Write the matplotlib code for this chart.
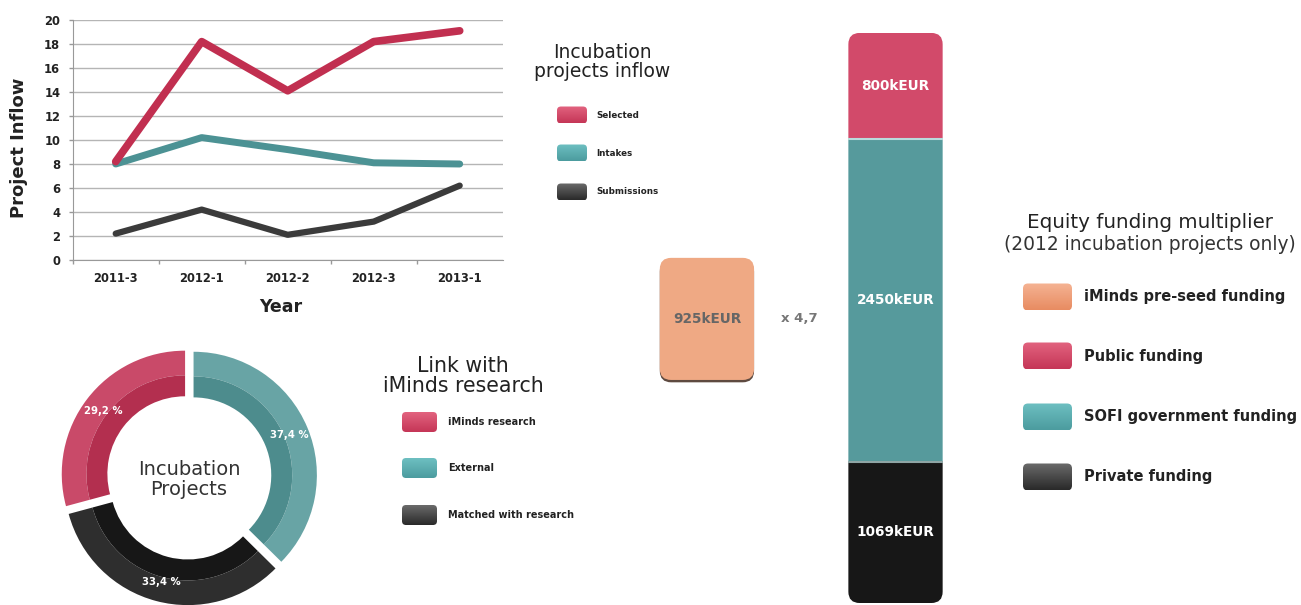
import numpy as np
import matplotlib.pyplot as plt
from matplotlib.patches import FancyBboxPatch
from matplotlib.colors import LinearSegmentedColormap

plt.rcParams['font.family'] = ['DejaVu Sans']

# project inflow per call
periods = ['2011-3', '2012-1', '2012-2', '2012-3', '2013-1']
selected = [8.2, 18.2, 14.1, 18.2, 19.1]
intakes = [8.0, 10.2, 9.2, 8.1, 8.0]
submissions = [2.2, 4.2, 2.1, 3.2, 6.2]
inflow_labels = ['Selected', 'Intakes', 'Submissions']

# link with iMinds research, share of incubation projects (%)
link_labels = ['External', 'Matched with research', 'iMinds research']
link_share = [37.4, 33.4, 29.2]

# 2012 funding (kEUR), stacked bottom to top
preseed = 925
funding_labels = ['Private funding', 'SOFI government funding', 'Public funding']
funding = [1069, 2450, 800]

RED = '#c12f50'
TEAL = '#4c9294'
DARK = '#3b3b3b'

W, H = 1301, 605
fig = plt.figure(figsize=(W / 100, H / 100), dpi=100)


def px_box(left, top, width, height):
    return [left / W, 1 - (top + height) / H, width / W, height / H]


# overlay in pixel units for the titles and legend keys
ov = fig.add_axes([0, 0, 1, 1])
ov.axis('off')


def key(cx, cy, w, h, top, bottom, r=4):
    patch = FancyBboxPatch((cx - w / 2, cy - h / 2), w, h,
                           boxstyle=f'round,pad=0,rounding_size={r}',
                           fc='none', ec='none')
    ov.add_patch(patch)
    cmap = LinearSegmentedColormap.from_list('k', [top, bottom])
    im = ov.imshow(np.linspace(0, 1, 32).reshape(-1, 1), cmap=cmap, aspect='auto',
                   extent=(cx - w / 2, cx + w / 2, cy + h / 2, cy - h / 2),
                   interpolation='bilinear')
    im.set_clip_path(patch)


red_key = ('#e2637f', '#c53657')
teal_key = ('#6dbfc1', '#4c9c9f')
dark_key = ('#6a6a6a', '#2a2a2a')
orange_key = ('#f5b393', '#e88c62')

# legend: project inflow
ov.text(602, 62, 'Incubation\nprojects inflow', ha='center', va='center',
        fontsize=13.5, color='#222', linespacing=1.0)
for lab, cols, y in zip(inflow_labels, [red_key, teal_key, dark_key], [115, 153, 192]):
    key(572, y, 30, 17, *cols)
    ov.text(596, y, lab, va='center', fontsize=6.3, fontweight='bold', color='#222')

# legend: link with research
ov.text(463, 376, 'Link with\niMinds research', ha='center', va='center',
        fontsize=14.8, color='#222', linespacing=1.0)
link_order = [2, 0, 1]
for i, cols, y in zip(link_order, [red_key, teal_key, dark_key], [422, 468, 515]):
    key(419.5, y, 35, 20, *cols)
    ov.text(448, y, link_labels[i], va='center', fontsize=7, fontweight='bold', color='#222')

# legend: funding
ov.text(1150, 223, 'Equity funding multiplier', ha='center', va='center',
        fontsize=14.3, color='#222')
ov.text(1150, 244, '(2012 incubation projects only)', ha='center', va='center',
        fontsize=13.4, color='#333')
fund_legend = ['iMinds pre-seed funding', funding_labels[2], funding_labels[1], funding_labels[0]]
for lab, cols, y in zip(fund_legend, [orange_key, red_key, teal_key, dark_key],
                        [297, 356, 417, 477]):
    key(1047.5, y, 49, 27, *cols, r=5)
    ov.text(1084, y, lab, va='center', fontsize=10.5, fontweight='bold', color='#222')

ov.set_xlim(0, W)
ov.set_ylim(H, 0)

# line chart
ax = fig.add_axes(px_box(72.7, 20, 430, 240))
x = np.arange(len(periods))
kw = dict(solid_capstyle='round', solid_joinstyle='round', zorder=3)
ax.plot(x, submissions, color=DARK, lw=4.5, **kw)
ax.plot(x, intakes, color=TEAL, lw=5, **kw)
ax.plot(x, selected, color=RED, lw=5.5, **kw)
ax.set_xlim(-0.5, len(periods) - 0.5)
ax.set_ylim(0, 20)
ax.set_yticks(np.arange(0, 21, 2))
ax.set_xticks(x, periods)
ax.set_xticks(np.arange(-0.5, len(periods) - 1), minor=True)
ax.tick_params(axis='x', which='major', length=0, pad=9)
ax.tick_params(axis='x', which='minor', length=3, width=1, color='#999')
ax.tick_params(axis='y', length=3, width=1, color='#999', pad=6)
for lab in ax.get_xticklabels() + ax.get_yticklabels():
    lab.set_fontweight('bold')
    lab.set_fontsize(8.3)
    lab.set_color('#222')
ax.grid(axis='y', color='#b5b5b5', lw=1)
ax.set_axisbelow(True)
for s in ('top', 'right'):
    ax.spines[s].set_visible(False)
ax.spines['left'].set_color('#999')
ax.spines['bottom'].set_color('#999')
ax.set_ylabel('Project Inflow', fontsize=13, fontweight='bold', color='#222')
ax.yaxis.set_label_coords(-0.105, 0.467)
ax.set_xlabel('Year', fontsize=12.5, fontweight='bold', color='#222')
ax.xaxis.set_label_coords(0.484, -0.16)

# donut
ax2 = fig.add_axes(px_box(189 - 148, 477 - 148, 296, 296))
outer_cols = ['#68a4a5', '#2e2e2e', '#c94a69']
inner_cols = ['#4d8c8d', '#171717', '#b32f4f']
explode = [0.04] * len(link_share)
ax2.pie(link_share, radius=1, colors=outer_cols, startangle=90, counterclock=False,
        explode=explode, wedgeprops=dict(width=0.2, lw=0),
        autopct=lambda p: f'{p:.1f} %'.replace('.', ','), pctdistance=0.84,
        textprops=dict(color='white', fontsize=7.3, fontweight='bold'))
ax2.pie(link_share, radius=0.8, colors=inner_cols, startangle=90, counterclock=False,
        explode=explode, wedgeprops=dict(width=0.17, lw=0))
for t in ax2.texts:
    t.set_zorder(5)
ax2.text(0, -0.02, 'Incubation\nProjects', ha='center', va='center', fontsize=14,
         color='#333', linespacing=1.1)
ax2.set_xlim(-1.2, 1.2)
ax2.set_ylim(-1.2, 1.2)
ax2.set_aspect('equal')

# funding multiplier
ax3 = fig.add_axes(px_box(640, 20, 320, 585))
ax3.set_xlim(-0.355, 1.342)
ax3.set_ylim(-15, 4417)
ax3.axis('off')
p0, p1 = ax3.transData.transform([(0, 0), (1, 1)])
aspect = (p1[0] - p0[0]) / (p1[1] - p0[1])
rs = 0.06

bottoms = np.concatenate([[0], np.cumsum(funding)[:-1]])
bars = ax3.bar(1, funding, width=0.5, bottom=bottoms, color=['#171717', '#569a9c', '#d24a6a'], lw=0)
clip = FancyBboxPatch((0.75, 0), 0.5, sum(funding), boxstyle=f'round,pad=0,rounding_size={rs}',
                      mutation_aspect=aspect, fc='none', ec='none', transform=ax3.transData)
ax3.add_patch(clip)
for b in bars:
    b.set_clip_path(clip)
ax3.hlines(np.cumsum(funding)[:-1], 0.75, 1.25, colors=['#8fa5a5', '#b8dcdc'], lw=1.5)
for v, b0 in zip(funding, bottoms):
    ax3.text(1, b0 + v / 2, f'{v}kEUR', ha='center', va='center', color='white',
             fontsize=9.8, fontweight='bold')

seed_bottom = 1690
ax3.add_patch(FancyBboxPatch((-0.25, seed_bottom - 18), 0.5, preseed,
                             boxstyle=f'round,pad=0,rounding_size={rs}', mutation_aspect=aspect,
                             fc='#5e4a40', ec='none'))
ax3.add_patch(FancyBboxPatch((-0.25, seed_bottom), 0.5, preseed,
                             boxstyle=f'round,pad=0,rounding_size={rs}', mutation_aspect=aspect,
                             fc='#efa984', ec='none'))
ax3.text(0, seed_bottom + preseed / 2, f'{preseed}kEUR', ha='center', va='center',
         color='#666', fontsize=9.8, fontweight='bold')
ratio = sum(funding) / preseed
ax3.text(0.488, seed_bottom + preseed / 2, f'x {ratio:.1f}'.replace('.', ','), ha='center',
         va='center', color='#777', fontsize=9.5, fontweight='bold')

fig.savefig('out.png', dpi=100)
